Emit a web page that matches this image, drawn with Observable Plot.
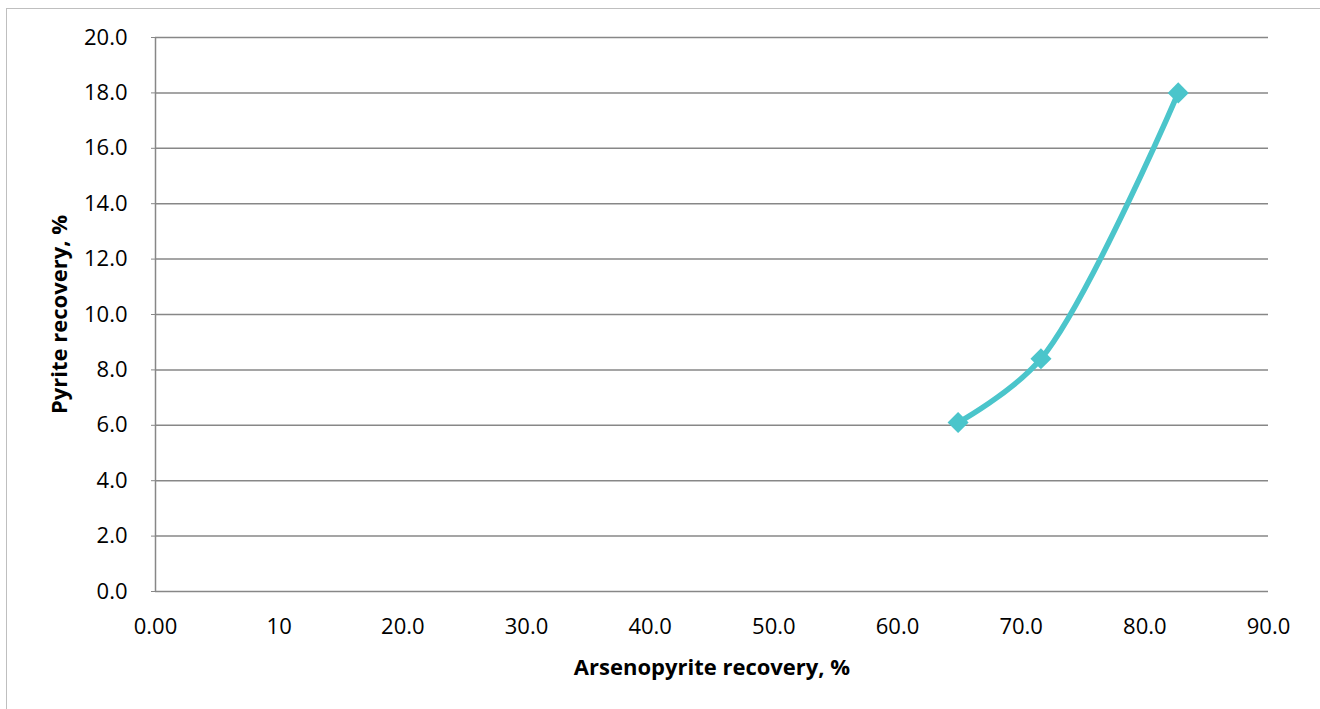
<!DOCTYPE html>
<html>
<head>
<meta charset="utf-8">
<script src="https://cdn.jsdelivr.net/npm/d3@7"></script>
<script src="https://cdn.jsdelivr.net/npm/@observablehq/plot@0.6"></script>
<style>
  html, body { margin: 0; padding: 0; background: #fff; }
  #wrap { position: relative; width: 1320px; height: 709px; overflow: hidden; }
  #border { position: absolute; left: 6px; top: 8px; right: -2px; bottom: -2px;
            border-top: 1px solid #bfbfbf; border-left: 1.5px solid #bfbfbf; }
  #chart { position: absolute; left: 0; top: 0; }
</style>
</head>
<body>
<div id="wrap"><div id="border"></div><div id="chart"></div></div>
<script>
const arsenopyriteRecovery = [64.9, 71.6, 82.7];
const pyriteRecovery = [6.1, 8.4, 18.0];
const xTicks = [0, 10, 20, 30, 40, 50, 60, 70, 80, 90];
const xTickLabels = ["0.00", "10", "20.0", "30.0", "40.0", "50.0", "60.0", "70.0", "80.0", "90.0"];
const yTicks = [0, 2, 4, 6, 8, 10, 12, 14, 16, 18, 20];
const yTickLabels = ["0.0", "2.0", "4.0", "6.0", "8.0", "10.0", "12.0", "14.0", "16.0", "18.0", "20.0"];
const xTitle = "Arsenopyrite recovery, %";
const yTitle = "Pyrite recovery, %";

const data = arsenopyriteRecovery.map((x, i) => ({x, y: pyriteRecovery[i]}));
const color = "#4bc5cb";
const grid = "#878787";

const chart = Plot.plot({
  width: 1320,
  height: 709,
  marginLeft: 155,
  marginRight: 52,
  marginTop: 37,
  marginBottom: 118,
  style: {fontFamily: "'Open Sans', sans-serif", fontSize: "22px", color: "#000", background: "transparent"},
  x: {domain: [0, 90]},
  y: {domain: [0, 20]},
  marks: [
    Plot.gridY(yTicks, {stroke: grid, strokeOpacity: 1, strokeWidth: 1.5}),
    Plot.ruleX([0], {stroke: grid, strokeWidth: 1.5}),
    Plot.axisY({ticks: yTicks, tickFormat: (d) => yTickLabels[yTicks.indexOf(d)], tickSize: 4, tickPadding: 24, stroke: grid, label: null, fontSize: 22}),
    Plot.axisX({ticks: xTicks, tickFormat: (d) => xTickLabels[xTicks.indexOf(d)], tickSize: 0, tickPadding: 27, label: null, fontSize: 22}),
    Plot.line(data, {x: "x", y: "y", curve: "catmull-rom", stroke: color, strokeWidth: 5.5}),
    Plot.dot(data, {x: "x", y: "y", symbol: "diamond2", r: 9.5, fill: color, stroke: "none"}),
    Plot.text([xTitle], {frameAnchor: "bottom", dy: 76, textAnchor: "middle", lineAnchor: "middle", fontWeight: "bold", fontSize: 22, fill: "#000"}),
    Plot.text([yTitle], {frameAnchor: "left", dx: -96, rotate: -90, textAnchor: "middle", lineAnchor: "middle", fontWeight: "bold", fontSize: 22, fill: "#000"})
  ]
});
document.getElementById("chart").appendChild(chart);
</script>
</body>
</html>
